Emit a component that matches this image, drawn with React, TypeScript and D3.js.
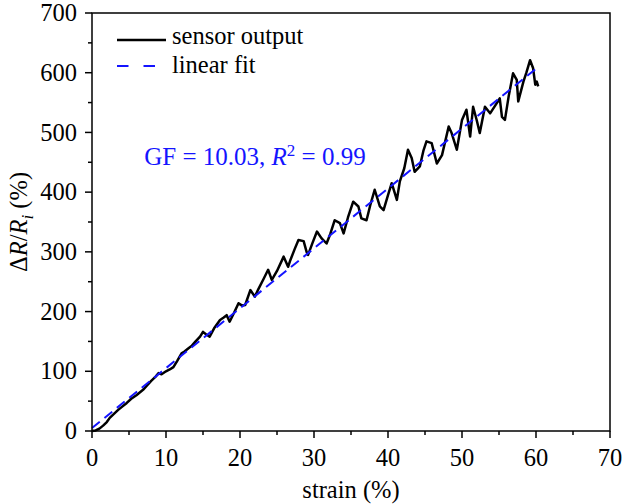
import React from "react";
import * as d3 from "d3";

const strain = [0,0.5,1,1.5,2,2.4,3,3.5,4,4.7,5.3,6,6.9,7.5,8,8.6,9.0,9.4,10,10.5,11,11.5,12.1,12.5,13,13.5,14,14.6,15.0,15.4,15.9,16.5,17.3,17.8,18.2,18.6,19.2,19.8,20.3,20.7,21.4,22.0,22.5,23.2,23.8,24.3,25.0,25.9,26.5,26.8,27.4,27.9,28.6,29.0,29.2,29.8,30.4,31.0,31.7,32.2,32.8,33.5,34.0,34.6,35.3,36.0,36.4,37.1,37.6,38.2,38.9,39.4,40.0,40.5,41.2,41.6,42.2,42.7,43.2,43.6,44.3,44.8,45.2,45.9,46.6,47.3,48.2,48.6,49.3,50.0,50.6,51.1,51.5,52.0,52.4,53.1,53.8,54.7,55.1,55.4,55.8,56.3,56.9,57.4,57.6,58.3,58.7,59.2,59.6,59.9,60.1,60.3];
const response = [0,1,4,9,15,22,29,35,40,47,54,60,69,77,84,91,97,95,100,103,107,117,130,133,138,143,150,158,166,162,158,172,186,190,194,183,198,214,210,211,236,225,238,255,270,253,268,292,275,286,305,320,318,300,295,315,334,323,314,330,353,348,331,358,384,376,356,353,378,404,376,370,395,415,387,418,440,471,457,434,443,470,485,482,448,462,510,499,471,521,538,493,543,520,499,543,532,549,557,526,521,560,599,588,552,585,600,621,608,580,585,577];

const fitStrain = [0, 60];
const gaugeFactor = 10.03;
const fitIntercept = 5;

const xTicks = [0,10,20,30,40,50,60,70];
const xMinor = [5,15,25,35,45,55,65];
const yTicks = [0,100,200,300,400,500,600,700];
const yMinor = [50,150,250,350,450,550,650];

const FONT = "'Liberation Serif', 'Times New Roman', serif";
const BLUE = "#1414ff";
const FS = 24.5;

export default function App() {
  const left = 92, right = 610, top = 13, bottom = 431;
  const x = d3.scaleLinear().domain([0, 70]).range([left, right]);
  const y = d3.scaleLinear().domain([0, 700]).range([bottom, top]);
  const pts: [number, number][] = strain.map((s, i) => [s, response[i]]);
  const line = d3.line<[number, number]>().x(d => x(d[0])).y(d => y(d[1]));
  const fitPts: [number, number][] = fitStrain.map(s => [s, gaugeFactor * s + fitIntercept]);

  return (
    <div style={{ position: "absolute", left: 0, top: 0 }}>
      <svg width={624} height={504} style={{ display: "block", background: "#fff" }} fontFamily={FONT}>
        <rect x={0} y={0} width={624} height={504} fill="#fff" />
        <path d={line(pts) || ""} fill="none" stroke="#000" strokeWidth={2.5} strokeLinejoin="round" />
        <path d={line(fitPts) || ""} fill="none" stroke={BLUE} strokeWidth={2} strokeDasharray="10,6" />
        <rect x={left} y={top} width={right - left} height={bottom - top} fill="none" stroke="#000" strokeWidth={1.5} />
        {xTicks.map(t => (
          <g key={"xt" + t}>
            <line x1={x(t)} x2={x(t)} y1={bottom} y2={bottom + 7} stroke="#000" strokeWidth={1.5} />
            <text x={x(t)} y={466} textAnchor="middle" fontSize={FS}>{t}</text>
          </g>
        ))}
        {xMinor.map(t => (
          <line key={"xm" + t} x1={x(t)} x2={x(t)} y1={bottom} y2={bottom + 4} stroke="#000" strokeWidth={1.5} />
        ))}
        {yTicks.map(t => (
          <g key={"yt" + t}>
            <line x1={left - 7} x2={left} y1={y(t)} y2={y(t)} stroke="#000" strokeWidth={1.5} />
            <text x={77} y={y(t)} dy="0.33em" textAnchor="end" fontSize={FS}>{t}</text>
          </g>
        ))}
        {yMinor.map(t => (
          <line key={"ym" + t} x1={left - 4} x2={left} y1={y(t)} y2={y(t)} stroke="#000" strokeWidth={1.5} />
        ))}
        <text x={(left + right) / 2} y={498} textAnchor="middle" fontSize={FS}>strain (%)</text>
        <text transform={`translate(27,${(top + bottom) / 2}) rotate(-90)`} textAnchor="middle" fontSize={FS}>
          Δ<tspan fontStyle="italic">R</tspan>/<tspan fontStyle="italic">R</tspan><tspan fontStyle="italic" dy="6" fontSize={17}>i</tspan><tspan dy="-6"> (%)</tspan>
        </text>
        <line x1={117} x2={166} y1={40} y2={40} stroke="#000" strokeWidth={2.5} />
        <text x={172} y={44} fontSize={FS}>sensor output</text>
        <line x1={117} x2={156} y1={66} y2={66} stroke={BLUE} strokeWidth={2} strokeDasharray="11.5,15" />
        <text x={172} y={73} fontSize={FS}>linear fit</text>
        <text x={255} y={165} textAnchor="middle" fontSize={25} fill={BLUE}>
          GF = 10.03, <tspan fontStyle="italic">R</tspan><tspan dy="-9" fontSize={17}>2</tspan><tspan dy="9"> = 0.99</tspan>
        </text>
      </svg>
    </div>
  );
}
